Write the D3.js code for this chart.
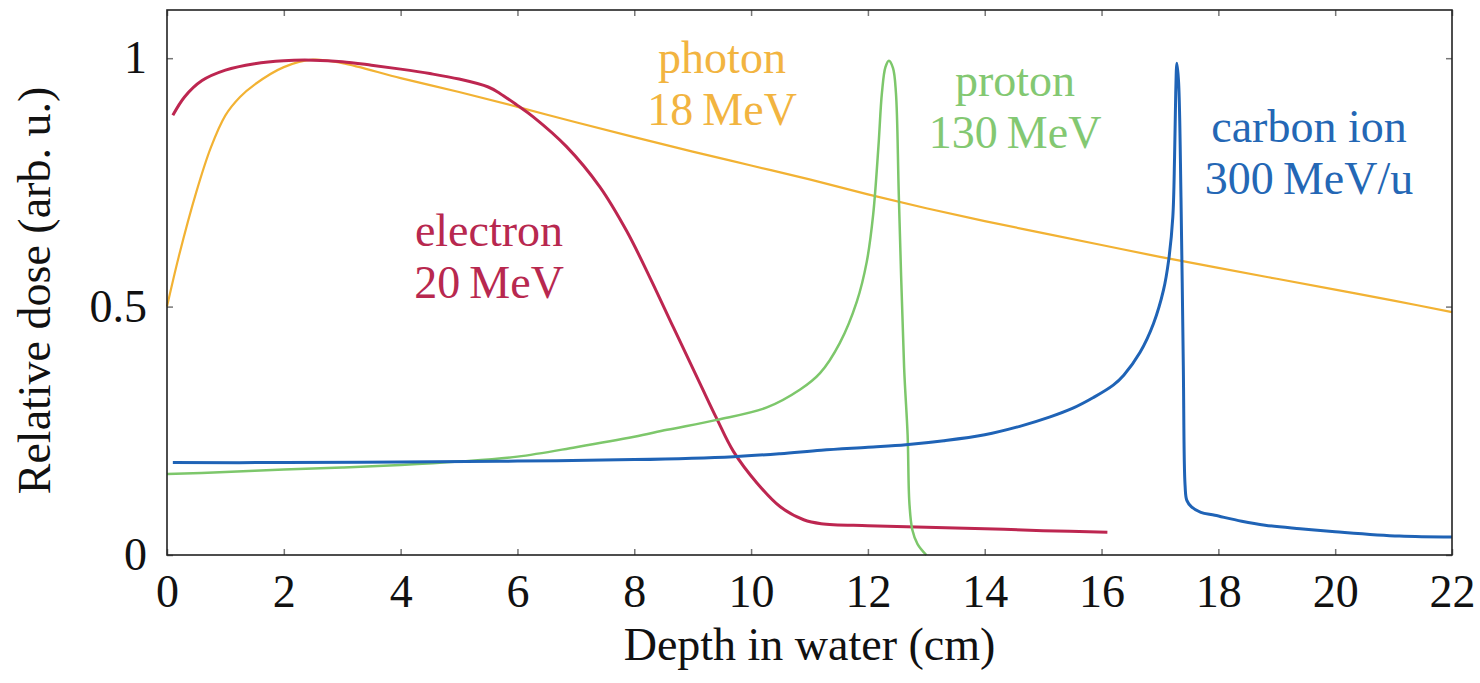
<!DOCTYPE html>
<html>
<head>
<meta charset="utf-8">
<script src="https://cdn.jsdelivr.net/npm/d3@7"></script>
<style>
  body { margin: 0; background: #fff; }
  svg text { font-family: "Liberation Serif", serif; }
</style>
</head>
<body>
<div id="chart"></div>
<script>
// depth (cm), relative dose
var electron = [[0.1,0.885],[0.3,0.922],[0.6,0.955],[1.0,0.976],[1.5,0.989],[2.0,0.995],[2.5,0.996],[3.0,0.993],[3.5,0.986],[4.0,0.978],[4.5,0.969],[5.0,0.958],[5.5,0.942],[5.7,0.929],[6.0,0.905],[6.27,0.882],[6.84,0.822],[7.41,0.741],[7.87,0.652],[8.27,0.558],[8.67,0.458],[9.13,0.344],[9.41,0.275],[9.70,0.208],[10.1,0.145],[10.5,0.097],[10.9,0.071],[11.2,0.063],[12,0.059],[13,0.056],[14,0.053],[15,0.049],[16.1,0.046]];
var photon = [[0,0.5],[0.2,0.6],[0.5,0.73],[0.75,0.82],[1.0,0.885],[1.25,0.922],[1.5,0.947],[2.0,0.982],[2.5,0.997],[3,0.99],[4,0.96],[5,0.932],[6,0.902],[7,0.871],[8,0.841],[9,0.812],[10,0.784],[11,0.756],[12,0.726],[13,0.698],[14,0.672],[15,0.648],[16,0.624],[17,0.6],[18,0.578],[19,0.556],[20,0.534],[21,0.512],[22,0.489]];
var proton = [[0,0.163],[1,0.167],[2,0.172],[3,0.176],[4,0.181],[5,0.188],[6,0.198],[7,0.217],[8,0.238],[8.56,0.252],[9.41,0.272],[10.27,0.297],[10.84,0.333],[11.18,0.366],[11.52,0.427],[11.81,0.51],[11.98,0.59],[12.09,0.685],[12.18,0.822],[12.24,0.93],[12.30,0.982],[12.36,0.995],[12.43,0.98],[12.48,0.93],[12.53,0.72],[12.62,0.377],[12.68,0.241],[12.71,0.105],[12.76,0.051],[12.85,0.022],[13.0,0]];
var carbon = [[0.1,0.186],[2,0.186],[4,0.187],[6,0.189],[8,0.192],[9.7,0.198],[10.5,0.204],[11.2,0.211],[12,0.217],[12.65,0.222],[13.3,0.23],[14.0,0.242],[14.6,0.259],[15.12,0.278],[15.5,0.295],[15.86,0.317],[16.2,0.342],[16.38,0.362],[16.66,0.408],[16.89,0.466],[17.06,0.533],[17.15,0.594],[17.22,0.68],[17.25,0.80],[17.27,0.93],[17.29,0.99],[17.32,0.95],[17.36,0.72],[17.40,0.38],[17.43,0.14],[17.46,0.11],[17.54,0.097],[17.7,0.086],[17.94,0.08],[18.4,0.068],[18.8,0.06],[19.4,0.053],[20,0.047],[21.1,0.038],[22,0.036]];

var xTicks = [0,2,4,6,8,10,12,14,16,18,20,22];
var yTicks = [0,0.5,1];

var series = [
  {name: "photon", data: photon, color: "#F2B233", width: 2.2, label: ["photon","18\u2009MeV"], lx: 722, ly: 73, tcolor: "#F2B440"},
  {name: "electron", data: electron, color: "#BD2650", width: 3, label: ["electron","20\u2009MeV"], lx: 489, ly: 246, tcolor: "#B8284F"},
  {name: "proton", data: proton, color: "#7DC76B", width: 2.5, label: ["proton","130\u2009MeV"], lx: 1015, ly: 96, tcolor: "#83C872"},
  {name: "carbon", data: carbon, color: "#1F63B6", width: 3, label: ["carbon ion","300\u2009MeV/u"], lx: 1309, ly: 142, tcolor: "#2467B5"}
];

var W = 1480, H = 683;
var pL = 167, pR = 1452, pT = 10, pB = 555;

var svg = d3.select("#chart").append("svg")
  .attr("width", W)
  .attr("height", H);

var x = d3.scaleLinear().domain([0, 22]).range([pL, pR]);
var y = d3.scaleLinear().domain([0, 1.097]).range([pB, pT]);

// axes, ticks inward on all four sides
var fmt = function(d) { return String(d); };

var gx = svg.append("g")
  .attr("transform", "translate(0," + pB + ")")
  .call(d3.axisBottom(x).tickValues(xTicks).tickSize(-6).tickPadding(19).tickFormat(fmt));
var gy = svg.append("g")
  .attr("transform", "translate(" + pL + ",0)")
  .call(d3.axisLeft(y).tickValues(yTicks).tickSize(-6).tickPadding(20).tickFormat(fmt));
var gt = svg.append("g")
  .attr("transform", "translate(0," + pT + ")")
  .call(d3.axisTop(x).tickValues(xTicks).tickSize(-6).tickFormat(""));
var gr = svg.append("g")
  .attr("transform", "translate(" + pR + ",0)")
  .call(d3.axisRight(y).tickValues(yTicks).tickSize(-6).tickFormat(""));

[gx, gy, gt, gr].forEach(function(g) {
  g.select(".domain").remove();
  g.selectAll(".tick line").attr("stroke", "#777").attr("stroke-width", 1.5);
  g.selectAll(".tick text").attr("font-size", 46).attr("fill", "#111")
    .style("font-family", "'Liberation Serif', serif");
});

var line = d3.line()
  .x(function(d) { return x(d[0]); })
  .y(function(d) { return y(d[1]); })
  .curve(d3.curveCatmullRom.alpha(0.5));

svg.selectAll("path.curve")
  .data(series)
  .enter()
  .append("path")
  .attr("class", "curve")
  .attr("fill", "none")
  .attr("stroke", function(d) { return d.color; })
  .attr("stroke-width", function(d) { return d.width; })
  .attr("stroke-linejoin", "round")
  .attr("d", function(d) { return line(d.data); });

// frame
svg.append("rect")
  .attr("x", pL).attr("y", pT)
  .attr("width", pR - pL).attr("height", pB - pT)
  .attr("fill", "none").attr("stroke", "#222").attr("stroke-width", 1.6);

// curve labels
series.forEach(function(s) {
  var t = svg.append("text")
    .attr("text-anchor", "middle")
    .attr("font-size", 46)
    .attr("fill", s.tcolor);
  s.label.forEach(function(l, i) {
    t.append("tspan").attr("x", s.lx).attr("y", s.ly + i * 52).text(l);
  });
});

// axis titles
svg.append("text")
  .attr("x", (pL + pR) / 2)
  .attr("y", 660)
  .attr("text-anchor", "middle")
  .attr("font-size", 46)
  .attr("fill", "#111")
  .text("Depth in water (cm)");

svg.append("text")
  .attr("transform", "translate(50," + ((pT + pB) / 2 + 8) + ") rotate(-90)")
  .attr("text-anchor", "middle")
  .attr("font-size", 46)
  .attr("fill", "#111")
  .text("Relative dose (arb. u.)");
</script>
</body>
</html>
